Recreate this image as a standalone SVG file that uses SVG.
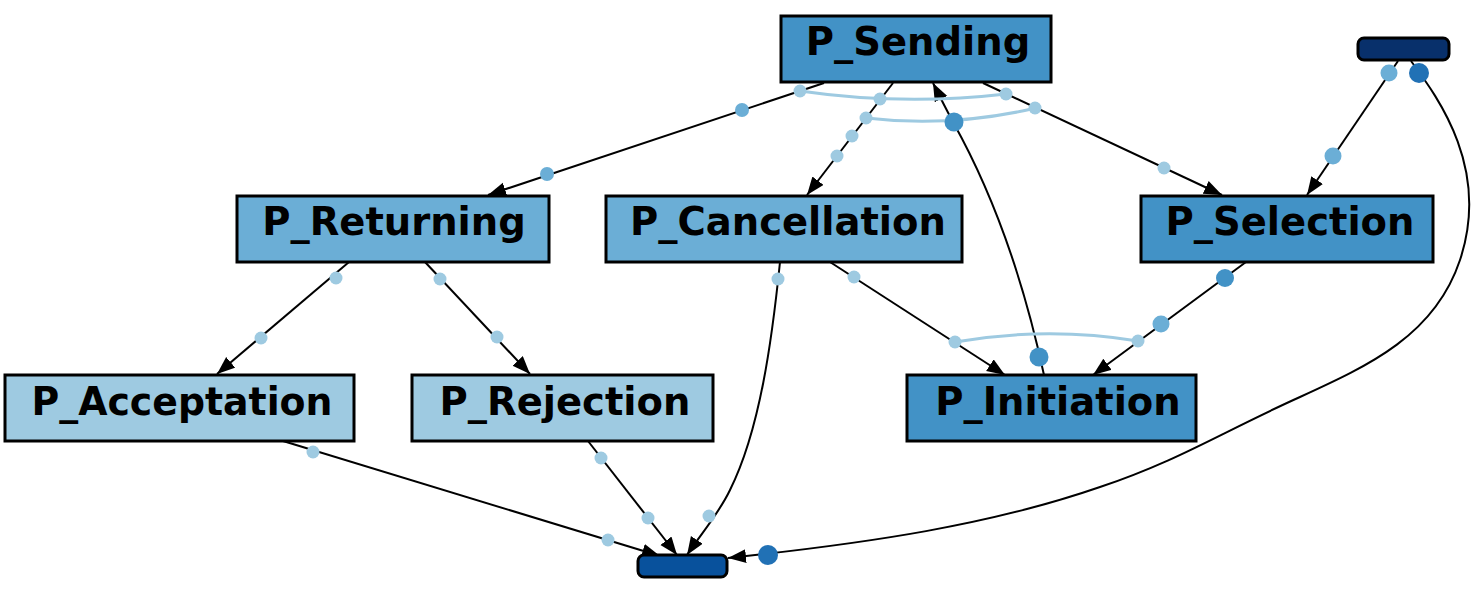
<svg xmlns="http://www.w3.org/2000/svg" width="1480" height="589" viewBox="0 0 1480 589">
<style>
.box{stroke:#000;stroke-width:3}
.lbl{font-family:"DejaVu Sans",sans-serif;font-weight:bold;font-size:38.5px;fill:#000;text-anchor:middle}
.e{fill:none;stroke:#000;stroke-width:2;marker-end:url(#arr)}
.arc{fill:none;stroke:#9ecae1;stroke-width:3}
.d1{fill:#9ecae1}
.d2{fill:#6baed6}
.d3{fill:#4292c6}
.d4{fill:#2171b5}
</style>
<defs>
<marker id="arr" markerUnits="userSpaceOnUse" markerWidth="20" markerHeight="16" refX="18" refY="7" orient="auto">
<path d="M0,0 L18,7 L0,14 z" fill="#000"/>
</marker>
</defs>
<rect width="1480" height="589" fill="#fff"/>
<g id="connectors">
<path class="e" d="M824,83 L488,195"/>
<path class="e" d="M893,83 L807,195"/>
<path class="e" d="M983,83 L1222,195"/>
<path class="e" d="M1044,375 C1030,310 1005,215 953,122 C945,107 939,95 933,83"/>
<path class="e" d="M349,262 L217,374"/>
<path class="e" d="M425,262 L530,374"/>
<path class="e" d="M780,262 C772,340 760,430 730,490 C718,515 700,535 687,555"/>
<path class="e" d="M830,262 L1005,375"/>
<path class="e" d="M1246,262 L1093,375"/>
<path class="e" d="M1398,61 L1307,195"/>
<path class="e" d="M1411,61 C1440,100 1490,170 1460,260 C1435,335 1370,365 1300,397 C1220,433 1180,460 1100,487 C990,525 870,543 728,558"/>
<path class="e" d="M283,441 L660,556"/>
<path class="e" d="M588,441 L677,555"/>
<path class="arc" d="M800,91 Q903,106 1006,94"/>
<path class="arc" d="M866,118 Q950,128 1036,108"/>
<path class="arc" d="M955,342 Q1047,326 1138,341"/>
<circle class="d2" cx="742" cy="110" r="7"/>
<circle class="d2" cx="547" cy="174" r="7"/>
<circle class="d1" cx="800" cy="91" r="6.5"/>
<circle class="d1" cx="880" cy="99" r="6.5"/>
<circle class="d1" cx="1006" cy="94" r="6.5"/>
<circle class="d1" cx="866" cy="118" r="6.5"/>
<circle class="d1" cx="1035" cy="108" r="6.5"/>
<circle class="d1" cx="852" cy="136" r="6.5"/>
<circle class="d1" cx="837" cy="156" r="6.5"/>
<circle class="d3" cx="954" cy="122" r="9.5"/>
<circle class="d1" cx="1164" cy="168" r="6.5"/>
<circle class="d3" cx="1039" cy="357" r="9.5"/>
<circle class="d1" cx="336" cy="278" r="6.5"/>
<circle class="d1" cx="261" cy="338" r="6.5"/>
<circle class="d1" cx="440" cy="279" r="6.5"/>
<circle class="d1" cx="497" cy="337" r="6.5"/>
<circle class="d1" cx="778" cy="279" r="6.5"/>
<circle class="d1" cx="709" cy="516" r="6.5"/>
<circle class="d1" cx="854" cy="277" r="6.5"/>
<circle class="d1" cx="955" cy="342" r="6.5"/>
<circle class="d3" cx="1225" cy="278" r="9"/>
<circle class="d2" cx="1161" cy="324" r="8.5"/>
<circle class="d1" cx="1138" cy="341" r="6.5"/>
<circle class="d2" cx="1389" cy="73" r="8.5"/>
<circle class="d2" cx="1333" cy="156" r="8.5"/>
<circle class="d4" cx="1419" cy="73" r="10"/>
<circle class="d4" cx="768" cy="555" r="10"/>
<circle class="d1" cx="313" cy="452" r="6.5"/>
<circle class="d1" cx="608" cy="540" r="6.5"/>
<circle class="d1" cx="601" cy="458" r="6.5"/>
<circle class="d1" cx="648" cy="518" r="6.5"/>
</g>
<g id="P_Sending">
<rect class="box" x="781" y="16" width="270" height="66" fill="#4292c6"/>
<text class="lbl" x="918" y="55">P_Sending</text>
</g>
<g id="P_Returning">
<rect class="box" x="237" y="196" width="312" height="66" fill="#6baed6"/>
<text class="lbl" x="394" y="235">P_Returning</text>
</g>
<g id="P_Cancellation">
<rect class="box" x="606" y="196" width="356" height="66" fill="#6baed6"/>
<text class="lbl" x="788" y="235">P_Cancellation</text>
</g>
<g id="P_Selection">
<rect class="box" x="1141" y="196" width="292" height="66" fill="#4292c6"/>
<text class="lbl" x="1290" y="235">P_Selection</text>
</g>
<g id="P_Acceptation">
<rect class="box" x="5" y="375" width="349" height="66" fill="#9ecae1"/>
<text class="lbl" x="182" y="415" textLength="301" lengthAdjust="spacingAndGlyphs">P_Acceptation</text>
</g>
<g id="P_Rejection">
<rect class="box" x="412" y="375" width="301" height="66" fill="#9ecae1"/>
<text class="lbl" x="565" y="415">P_Rejection</text>
</g>
<g id="P_Initiation">
<rect class="box" x="907" y="375" width="289" height="66" fill="#4292c6"/>
<text class="lbl" x="1058" y="415">P_Initiation</text>
</g>
<g id="start">
<rect class="box" x="1358" y="38" width="91" height="22" rx="6" fill="#08306b"/>
</g>
<g id="end">
<rect class="box" x="638" y="555" width="89" height="22" rx="6" fill="#08519c"/>
</g>
</svg>
